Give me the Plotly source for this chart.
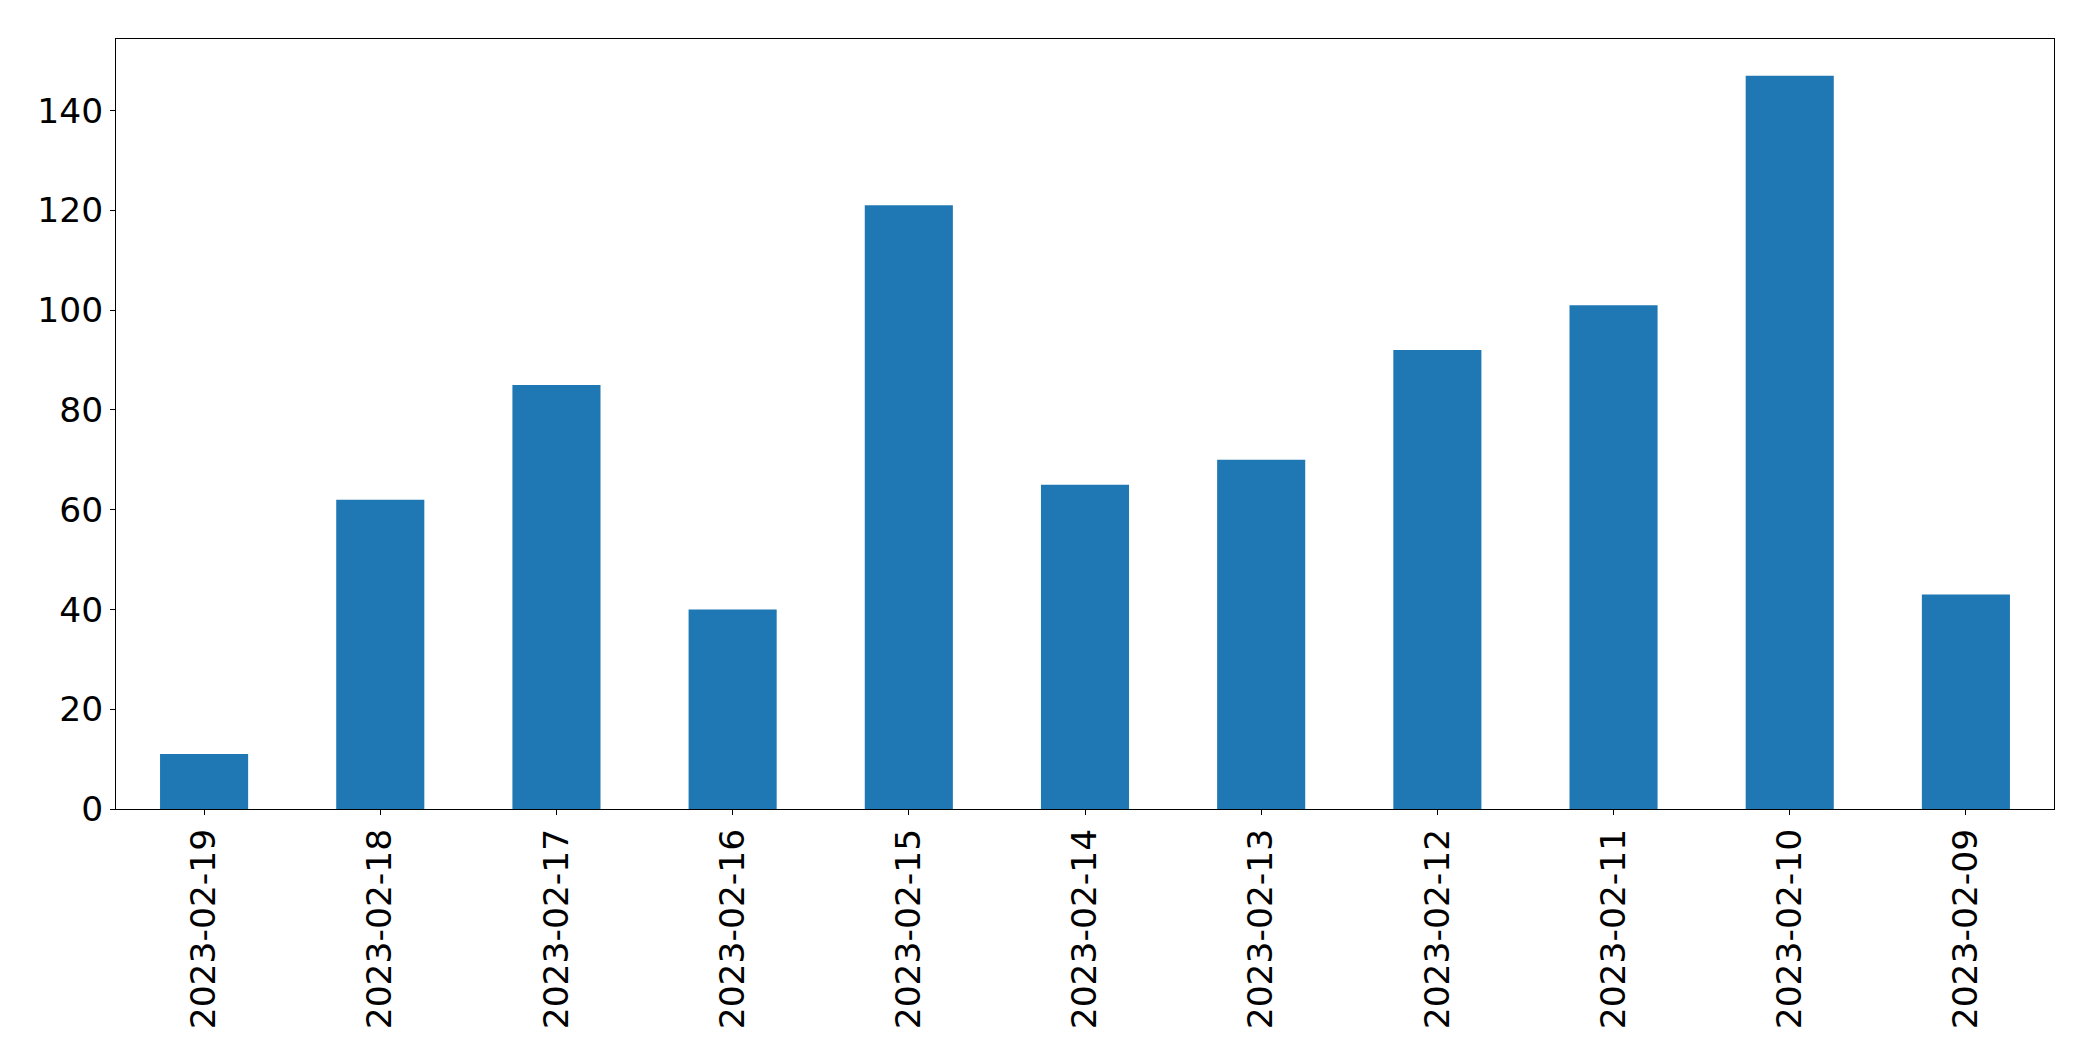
import plotly.graph_objects as go

dates = ["2023-02-19", "2023-02-18", "2023-02-17", "2023-02-16", "2023-02-15",
         "2023-02-14", "2023-02-13", "2023-02-12", "2023-02-11", "2023-02-10",
         "2023-02-09"]
counts = [11, 62, 85, 40, 121, 65, 70, 92, 101, 147, 43]
y_ticks = [0, 20, 40, 60, 80, 100, 120, 140]

fig = go.Figure(go.Bar(x=dates, y=counts, marker=dict(color="#1f77b4", line=dict(width=0))))

font = dict(family="DejaVu Sans", size=34.5, color="black")
fig.update_layout(
    width=2085, height=1045,
    margin=dict(l=108, r=39, t=31, b=244),
    paper_bgcolor="white", plot_bgcolor="white",
    bargap=0.5, showlegend=False,
    font=font,
)
fig.update_xaxes(
    type="category", range=[-0.5, len(dates) - 0.5],
    tickangle=-90, tickfont=font,
    showline=True, mirror=True, linecolor="black", linewidth=1,
    ticks="outside", ticklen=5, tickcolor="black", tickwidth=1,
    showgrid=False, zeroline=False,
)
fig.update_yaxes(
    range=[0, max(counts) * 1.05], tickvals=y_ticks,
    ticktext=[str(v) for v in y_ticks], tickfont=font,
    showline=True, mirror=True, linecolor="black", linewidth=1,
    ticks="outside", ticklen=5, tickcolor="black", tickwidth=1,
    showgrid=False, zeroline=False,
)
fig.write_html("out.html")
